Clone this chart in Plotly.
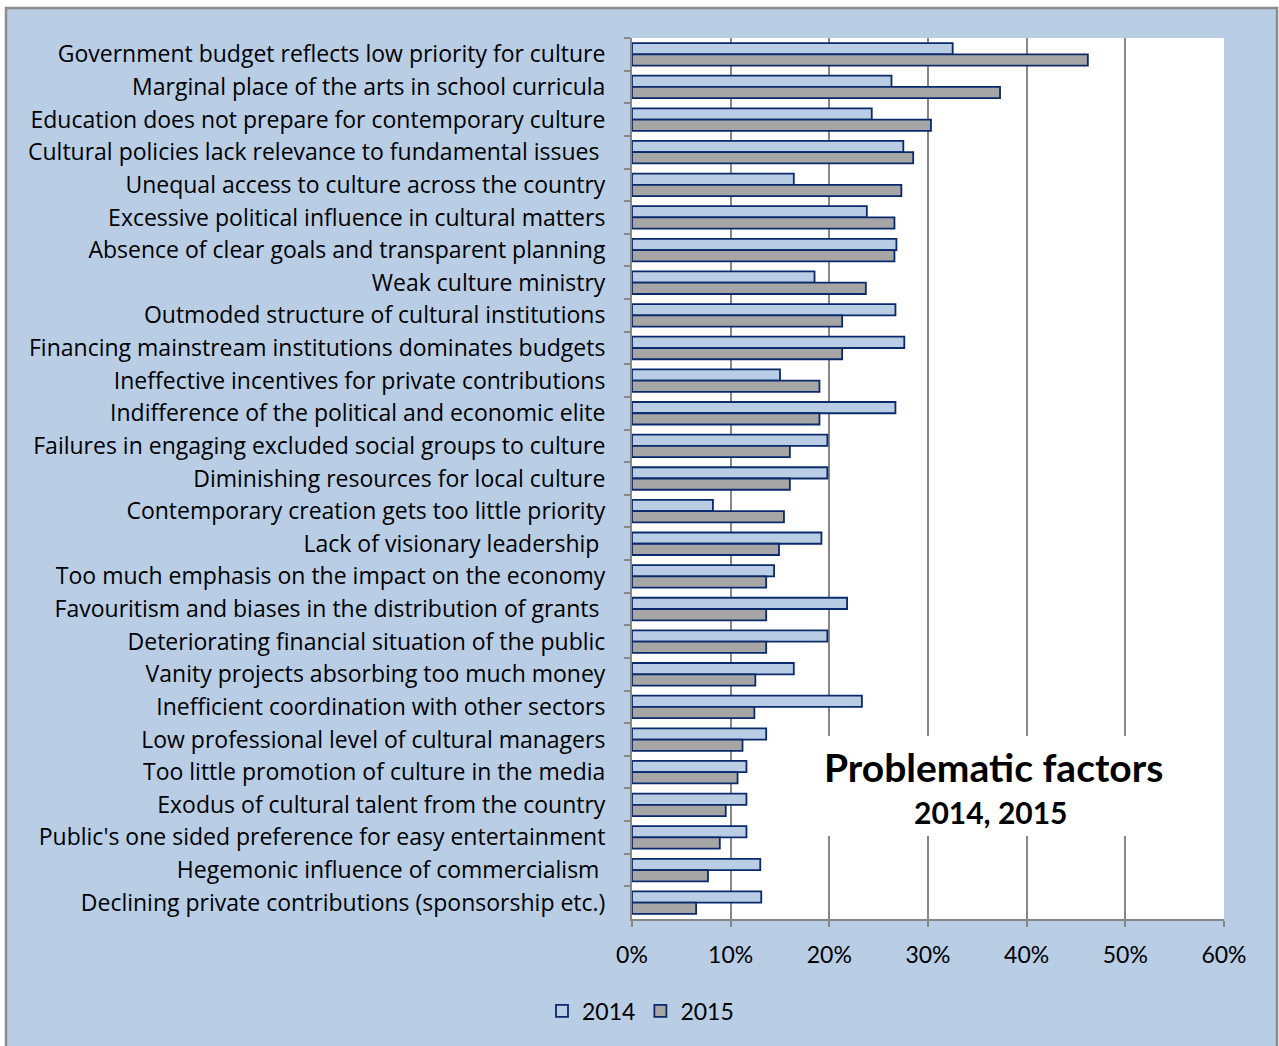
import plotly.graph_objects as go

# Problematic factors in the cultural sector, share of respondents
factors = [
    "Government budget reflects low priority for culture",
    "Marginal place of the arts in school curricula",
    "Education does not prepare for contemporary culture",
    "Cultural policies lack relevance to fundamental issues\u00a0",
    "Unequal access to culture across the country",
    "Excessive political influence in cultural matters",
    "Absence of clear goals and transparent planning",
    "Weak culture ministry",
    "Outmoded structure of cultural institutions",
    "Financing mainstream institutions dominates budgets",
    "Ineffective incentives for private contributions",
    "Indifference of the political and economic elite",
    "Failures in engaging excluded social groups to culture",
    "Diminishing resources for local culture",
    "Contemporary creation gets too little priority",
    "Lack of visionary leadership\u00a0",
    "Too much emphasis on the impact on the economy",
    "Favouritism and biases in the distribution of grants\u00a0",
    "Deteriorating financial situation of the public",
    "Vanity projects absorbing too much money",
    "Inefficient coordination with other sectors",
    "Low professional level of cultural managers",
    "Too little promotion of culture in the media",
    "Exodus of cultural talent from the country",
    "Public's one sided preference for easy entertainment",
    "Hegemonic influence of commercialism\u00a0",
    "Declining private contributions (sponsorship etc.)",
]

share_2014 = [0.325, 0.263, 0.243, 0.275, 0.164, 0.238, 0.268, 0.185, 0.267, 0.276,
              0.150, 0.267, 0.198, 0.198, 0.082, 0.192, 0.144, 0.218, 0.198, 0.164,
              0.233, 0.136, 0.116, 0.116, 0.116, 0.130, 0.131]
share_2015 = [0.462, 0.373, 0.303, 0.285, 0.273, 0.266, 0.266, 0.237, 0.213, 0.213,
              0.190, 0.190, 0.160, 0.160, 0.154, 0.149, 0.136, 0.136, 0.136, 0.125,
              0.124, 0.112, 0.107, 0.095, 0.089, 0.077, 0.065]

x_ticks = [0, 0.1, 0.2, 0.3, 0.4, 0.5, 0.6]

W, H = 1279, 1046
L, R, T, B = 632, 55, 38, 127
PW, PH = W - L - R, H - T - B


def px_x(p):
    return (p - L) / PW


def px_y(p):
    return (H - B - p) / PH


NAVY = "#0A2A6B"
BG = "#B9CDE5"
GRID = "#878787"

fig = go.Figure()
fig.add_trace(go.Bar(
    y=factors, x=share_2014, name="2014", orientation="h",
    marker=dict(color=BG, line=dict(color=NAVY, width=1.8)),
))
fig.add_trace(go.Bar(
    y=factors, x=share_2015, name="2015", orientation="h",
    marker=dict(color="#A6A6A6", line=dict(color=NAVY, width=1.8)),
))

shapes = [
    # light blue chart area with grey frame
    dict(type="rect", xref="paper", yref="paper", layer="below",
         x0=px_x(6), x1=px_x(1277), y0=px_y(1060), y1=px_y(8),
         fillcolor=BG, line=dict(color="#8C8C8C", width=2.5)),
    # white plot area
    dict(type="rect", xref="paper", yref="paper", layer="below",
         x0=0, x1=1, y0=0, y1=1, fillcolor="white", line=dict(width=0)),
    # white panel behind the title text
    dict(type="rect", xref="paper", yref="paper", layer="above",
         x0=px_x(818), x1=px_x(1168), y0=px_y(836), y1=px_y(736),
         fillcolor="white", line=dict(width=0)),
]

annotations = [
    dict(text="<b>Problematic factors</b>", xref="paper", yref="paper",
         x=px_x(993), y=px_y(767), xanchor="center", yanchor="middle",
         showarrow=False, font=dict(family="Lato", size=39, color="black")),
    dict(text="<b>2014, 2015</b>", xref="paper", yref="paper",
         x=px_x(991), y=px_y(812), xanchor="center", yanchor="middle",
         showarrow=False, font=dict(family="Lato", size=30, color="black")),
]

fig.update_layout(
    width=W, height=H,
    margin=dict(l=L, r=R, t=T, b=B, pad=0),
    paper_bgcolor="white",
    plot_bgcolor="rgba(0,0,0,0)",
    barmode="group",
    bargap=0.31,
    bargroupgap=0,
    showlegend=True,
    legend=dict(orientation="h", x=px_x(542), y=px_y(1011),
                xanchor="left", yanchor="middle",
                font=dict(family="Lato", size=23, color="black"),
                bgcolor="rgba(0,0,0,0)", itemwidth=30),
    shapes=shapes,
    annotations=annotations,
    xaxis=dict(range=[0, 0.6], tickvals=x_ticks, tickformat=".0%",
               showgrid=True, gridcolor=GRID, gridwidth=1.6,
               showline=True, linecolor=GRID, linewidth=2,
               ticks="outside", ticklen=6, tickcolor=GRID, tickwidth=1.6,
               ticklabelstandoff=8, zeroline=False,
               tickfont=dict(family="Lato", size=23, color="black")),
    yaxis=dict(autorange="reversed", type="category",
               showline=True, linecolor=GRID, linewidth=2,
               ticks="outside", ticklen=6, tickcolor=GRID, tickwidth=1.6,
               tickson="boundaries", showgrid=False,
               ticklabelstandoff=20,
               tickfont=dict(family="Open Sans", size=23, color="black")),
)

fig.write_html("out.html")
